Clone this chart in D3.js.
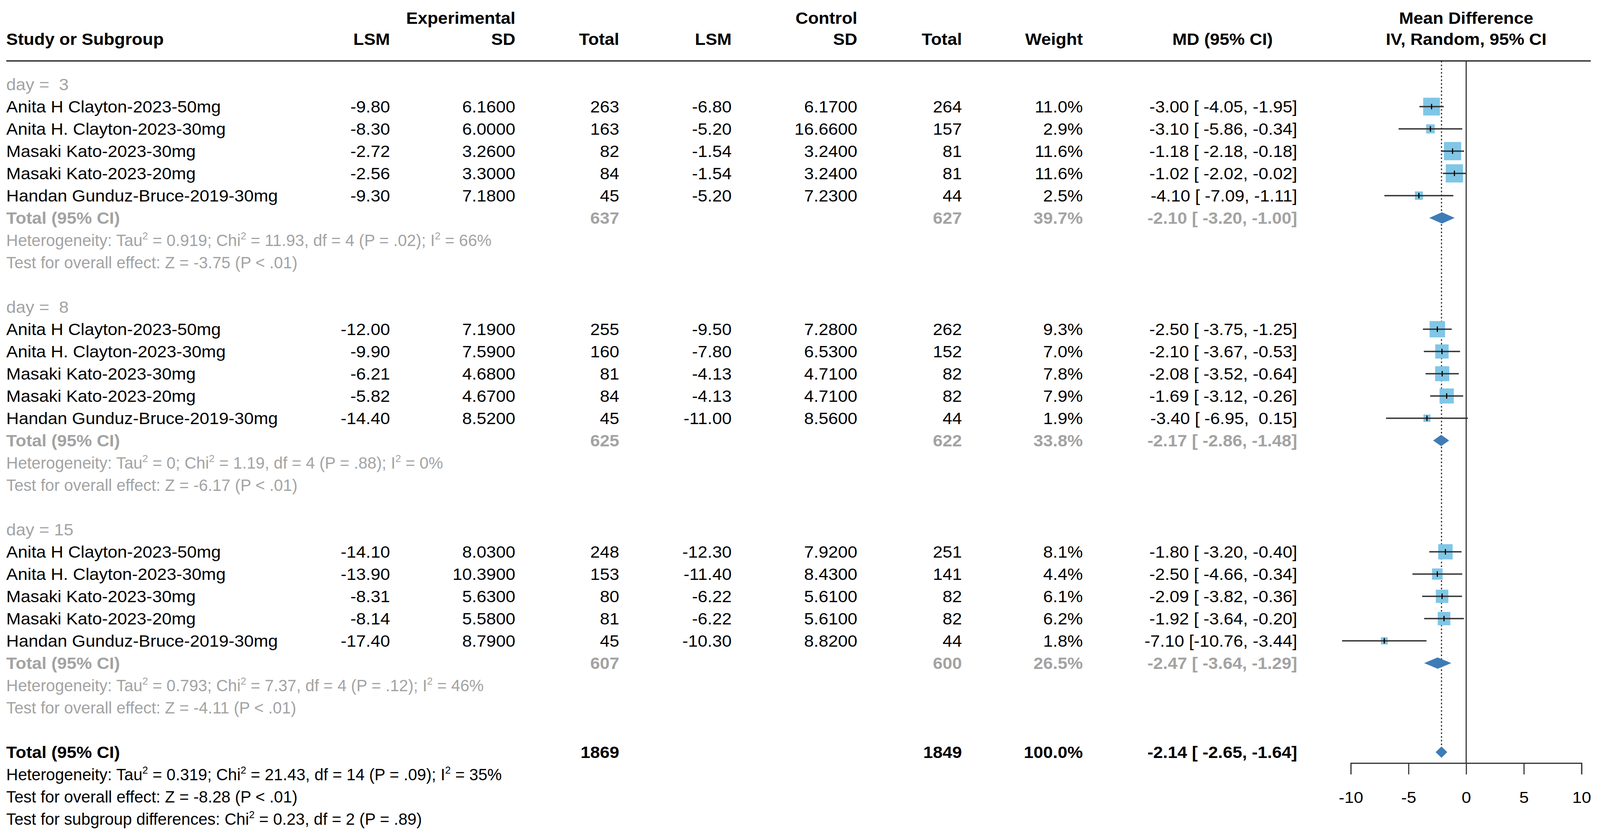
<!DOCTYPE html>
<meta charset="utf-8">
<html>
<head>
    <title>Forest plot - LSM mean difference by day</title>
    <script src="https://cdn.jsdelivr.net/npm/d3@7"></script>
</head>

<style>
    html, body{
        margin: 0;
        padding: 0;
        overflow: hidden;
        background: white;
    }
    svg{
        width: 100vw;
        height: 100vh;
        display: block;
    }
    text{
        font-family: "Liberation Sans", Arial, sans-serif;
        font-size: 42px;
        fill: #000;
        white-space: pre;
    }
    .bold{
        font-weight: bold;
    }
    .grey{
        fill: #a3a3a3;
    }
</style>

<body>
<svg viewBox="0 0 4328 2151" preserveAspectRatio="none"></svg>

<script>
    // ***************************************
    //        Data
    // ***************************************
    const days = [3, 8, 15];
    const studies = ["Anita H Clayton-2023-50mg", "Anita H. Clayton-2023-30mg", "Masaki Kato-2023-30mg",
        "Masaki Kato-2023-20mg", "Handan Gunduz-Bruce-2019-30mg"];

    const expLSM = [[-9.80, -8.30, -2.72, -2.56, -9.30], [-12.00, -9.90, -6.21, -5.82, -14.40], [-14.10, -13.90, -8.31, -8.14, -17.40]];
    const expSD  = [[6.16, 6.00, 3.26, 3.30, 7.18], [7.19, 7.59, 4.68, 4.67, 8.52], [8.03, 10.39, 5.63, 5.58, 8.79]];
    const expN   = [[263, 163, 82, 84, 45], [255, 160, 81, 84, 45], [248, 153, 80, 81, 45]];
    const ctlLSM = [[-6.80, -5.20, -1.54, -1.54, -5.20], [-9.50, -7.80, -4.13, -4.13, -11.00], [-12.30, -11.40, -6.22, -6.22, -10.30]];
    const ctlSD  = [[6.17, 16.66, 3.24, 3.24, 7.23], [7.28, 6.53, 4.71, 4.71, 8.56], [7.92, 8.43, 5.61, 5.61, 8.82]];
    const ctlN   = [[264, 157, 81, 81, 44], [262, 152, 82, 82, 44], [251, 141, 82, 82, 44]];
    const weight = [[11.0, 2.9, 11.6, 11.6, 2.5], [9.3, 7.0, 7.8, 7.9, 1.9], [8.1, 4.4, 6.1, 6.2, 1.8]];
    const md     = [[-3.00, -3.10, -1.18, -1.02, -4.10], [-2.50, -2.10, -2.08, -1.69, -3.40], [-1.80, -2.50, -2.09, -1.92, -7.10]];
    const mdLow  = [[-4.05, -5.86, -2.18, -2.02, -7.09], [-3.75, -3.67, -3.52, -3.12, -6.95], [-3.20, -4.66, -3.82, -3.64, -10.76]];
    const mdHigh = [[-1.95, -0.34, -0.18, -0.02, -1.11], [-1.25, -0.53, -0.64, -0.26, 0.15], [-0.40, -0.34, -0.36, -0.20, -3.44]];

    // subgroup totals
    const subExpN   = [637, 625, 607];
    const subCtlN   = [627, 622, 600];
    const subWeight = [39.7, 33.8, 26.5];
    const subMD     = [-2.10, -2.17, -2.47];
    const subLow    = [-3.20, -2.86, -3.64];
    const subHigh   = [-1.00, -1.48, -1.29];
    const subTau2   = [0.919, 0, 0.793];
    const subChi2   = [11.93, 1.19, 7.37];
    const subDf     = [4, 4, 4];
    const subP      = [0.02, 0.88, 0.12];
    const subI2     = [66, 0, 46];
    const subZ      = [-3.75, -6.17, -4.11];

    // overall
    const totExpN = 1869, totCtlN = 1849, totWeight = 100.0;
    const totMD = -2.14, totLow = -2.65, totHigh = -1.64;
    const totTau2 = 0.319, totChi2 = 21.43, totDf = 14, totP = 0.09, totI2 = 35, totZ = -8.28;
    const diffChi2 = 0.23, diffDf = 2, diffP = 0.89;

    const axisTicks = [-10, -5, 0, 5, 10];

    // ***************************************
    //        Scales and formats
    // ***************************************
    const svg = d3.select("svg");
    const loc = d3.formatLocale({decimal: ".", thousands: ",", grouping: [3], currency: ["", ""], minus: "-"});
    const f1 = loc.format(".1f"), f2 = loc.format(".2f"), f4 = loc.format(".4f"), f3t = loc.format(".3~f");
    const fp = v => f2(v).replace(/^0/, "");

    const rowY = d3.scaleLinear().domain([0, 1]).range([216, 273]);   // row centre
    const x = d3.scaleLinear().domain([-10, 10]).range([3654, 4278]);
    const sqSize = d3.scaleSqrt().domain([0, 11.6]).range([0, 46.7]);
    const stretch = 1.12, statStretch = 1.047;
    const col = {study: 17, eLSM: 1055, eSD: 1394, eN: 1675, cLSM: 1979, cSD: 2319, cN: 2602, w: 2929, md: 3509};
    const axisY = 1954, ruleY = 156, halfDiamond = 14.5;

    const gLines = svg.append("g");
    const gMarks = svg.append("g");
    const gText = svg.append("g");

    function txt(px, py, s, anchor, cls, sx) {
        return gText.append("text")
            .attr("transform", `translate(${px},${py}) scale(${sx || stretch},1)`)
            .attr("text-anchor", anchor)
            .attr("class", cls || null)
            .text(s);
    }
    function rowText(px, k, s, anchor, cls, sx) {
        return txt(px, rowY(k) + 15, s, anchor, cls, sx);
    }
    // statistics line, superscript 2 wherever "²" appears
    function statText(k, s, cls) {
        const t = rowText(col.study, k, "", "start", cls, statStretch);
        s.split("²").forEach((seg, i) => {
            if (i > 0) {
                t.append("tspan").attr("dy", -17).style("font-size", "26px").text("2");
                t.append("tspan").attr("dy", 17).text(seg);
            } else {
                t.append("tspan").text(seg);
            }
        });
    }
    const mdText = (m, lo, hi) => `${f2(m)} [${f2(lo).padStart(6)}, ${f2(hi).padStart(5)}]`;
    const diamond = (m, lo, hi, cy) =>
        `M${x(lo)},${cy}L${x(m)},${cy - halfDiamond}L${x(hi)},${cy}L${x(m)},${cy + halfDiamond}Z`;

    // ***************************************
    //        Header
    // ***************************************
    txt(col.eSD, 61, "Experimental", "end", "bold");
    txt(col.cSD, 61, "Control", "end", "bold");
    txt(x(0), 61, "Mean Difference", "middle", "bold");
    txt(col.study, 115, "Study or Subgroup", "start", "bold");
    txt(col.eLSM, 115, "LSM", "end", "bold");
    txt(col.eSD, 115, "SD", "end", "bold");
    txt(col.eN, 115, "Total", "end", "bold");
    txt(col.cLSM, 115, "LSM", "end", "bold");
    txt(col.cSD, 115, "SD", "end", "bold");
    txt(col.cN, 115, "Total", "end", "bold");
    txt(col.w, 115, "Weight", "end", "bold");
    txt(3307, 115, "MD (95% CI)", "middle", "bold");
    txt(x(0), 115, "IV, Random, 95% CI", "middle", "bold");

    gLines.append("line")
        .attr("x1", col.study).attr("x2", 4303).attr("y1", ruleY).attr("y2", ruleY)
        .attr("stroke", "#454545").attr("stroke-width", 4);

    // reference lines
    gLines.append("line")
        .attr("x1", x(0)).attr("x2", x(0)).attr("y1", ruleY).attr("y2", axisY)
        .attr("stroke", "#333").attr("stroke-width", 3);
    gLines.append("line")
        .attr("x1", x(totMD)).attr("x2", x(totMD)).attr("y1", ruleY).attr("y2", rowY(30) - halfDiamond)
        .attr("stroke", "#222").attr("stroke-width", 3).attr("stroke-dasharray", "4 5.5");

    // ***************************************
    //        Subgroups
    // ***************************************
    days.forEach((day, g) => {
        const k0 = g * 10;
        rowText(col.study, k0, `day = ${String(day).padStart(2)}`, "start", "grey");

        studies.forEach((name, i) => {
            const k = k0 + 1 + i;
            const cy = rowY(k);
            rowText(col.study, k, name, "start");
            rowText(col.eLSM, k, f2(expLSM[g][i]), "end");
            rowText(col.eSD, k, f4(expSD[g][i]), "end");
            rowText(col.eN, k, expN[g][i], "end");
            rowText(col.cLSM, k, f2(ctlLSM[g][i]), "end");
            rowText(col.cSD, k, f4(ctlSD[g][i]), "end");
            rowText(col.cN, k, ctlN[g][i], "end");
            rowText(col.w, k, f1(weight[g][i]) + "%", "end");
            rowText(col.md, k, mdText(md[g][i], mdLow[g][i], mdHigh[g][i]), "end");

            const s = sqSize(weight[g][i]);
            gMarks.append("rect")
                .attr("x", x(md[g][i]) - s / 2).attr("y", cy - s / 2)
                .attr("width", s).attr("height", s)
                .attr("fill", "#80c6e6");
            gMarks.append("line")
                .attr("x1", x(mdLow[g][i])).attr("x2", x(mdHigh[g][i]))
                .attr("y1", cy).attr("y2", cy)
                .attr("stroke", "#333").attr("stroke-width", 3.3);
            gMarks.append("line")
                .attr("x1", x(md[g][i])).attr("x2", x(md[g][i]))
                .attr("y1", cy - 7).attr("y2", cy + 7)
                .attr("stroke", "#000").attr("stroke-width", 3);
        });

        const kt = k0 + 6;
        rowText(col.study, kt, "Total (95% CI)", "start", "bold grey");
        rowText(col.eN, kt, subExpN[g], "end", "bold grey");
        rowText(col.cN, kt, subCtlN[g], "end", "bold grey");
        rowText(col.w, kt, f1(subWeight[g]) + "%", "end", "bold grey");
        rowText(col.md, kt, mdText(subMD[g], subLow[g], subHigh[g]), "end", "bold grey");
        gMarks.append("path")
            .attr("d", diamond(subMD[g], subLow[g], subHigh[g], rowY(kt)))
            .attr("fill", "#3f7cb6");

        statText(kt + 1, `Heterogeneity: Tau² = ${f3t(subTau2[g])}; Chi² = ${f2(subChi2[g])}, df = ${subDf[g]} (P = ${fp(subP[g])}); I² = ${subI2[g]}%`, "grey");
        statText(kt + 2, `Test for overall effect: Z = ${f2(subZ[g])} (P < .01)`, "grey");
    });

    // ***************************************
    //        Overall
    // ***************************************
    rowText(col.study, 30, "Total (95% CI)", "start", "bold");
    rowText(col.eN, 30, totExpN, "end", "bold");
    rowText(col.cN, 30, totCtlN, "end", "bold");
    rowText(col.w, 30, f1(totWeight) + "%", "end", "bold");
    rowText(col.md, 30, mdText(totMD, totLow, totHigh), "end", "bold");
    gMarks.append("path")
        .attr("d", diamond(totMD, totLow, totHigh, rowY(30)))
        .attr("fill", "#3f7cb6");
    statText(31, `Heterogeneity: Tau² = ${f3t(totTau2)}; Chi² = ${f2(totChi2)}, df = ${totDf} (P = ${fp(totP)}); I² = ${totI2}%`);
    statText(32, `Test for overall effect: Z = ${f2(totZ)} (P < .01)`);
    statText(33, `Test for subgroup differences: Chi² = ${f2(diffChi2)}, df = ${diffDf} (P = ${fp(diffP)})`);

    // ***************************************
    //        Axis
    // ***************************************
    const axis = svg.append("g")
        .attr("transform", `translate(0,${axisY})`)
        .call(d3.axisBottom(x).tickValues(axisTicks).tickSize(29).tickFormat(loc.format("d")));
    axis.select(".domain").attr("stroke", "#333").attr("stroke-width", 3);
    axis.selectAll(".tick line").attr("stroke", "#333").attr("stroke-width", 3);
    axis.selectAll(".tick text")
        .attr("y", 102).attr("dy", 0)
        .attr("transform", "scale(1.12,1)")
        .style("font-size", "41px");
</script>
</body>
</html>
